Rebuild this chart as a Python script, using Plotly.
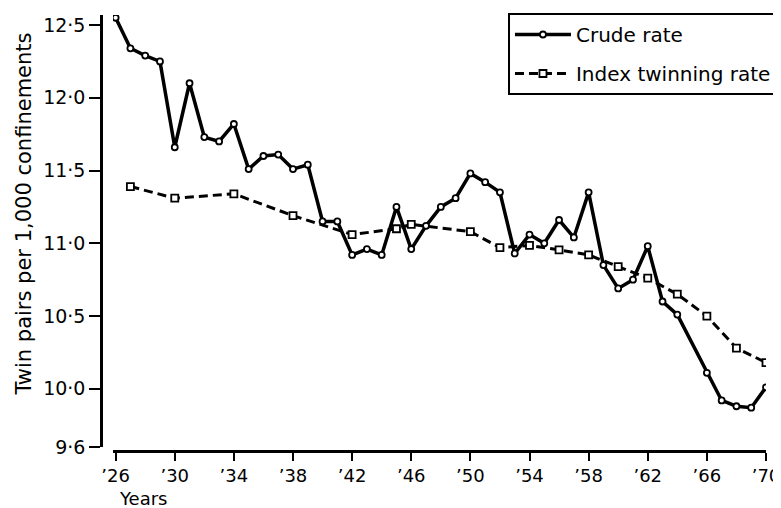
import plotly.graph_objects as go

crude_years = [1926, 1927, 1928, 1929, 1930, 1931, 1932, 1933, 1934, 1935, 1936, 1937, 1938, 1939,
               1940, 1941, 1942, 1943, 1944, 1945, 1946, 1947, 1948, 1949, 1950, 1951, 1952, 1953,
               1954, 1955, 1956, 1957, 1958, 1959, 1960, 1961, 1962, 1963, 1964, 1966, 1967, 1968,
               1969, 1970]
crude_rate = [12.55, 12.34, 12.29, 12.25, 11.66, 12.10, 11.73, 11.70, 11.82, 11.51, 11.60, 11.61, 11.51, 11.54,
              11.15, 11.15, 10.92, 10.96, 10.92, 11.25, 10.96, 11.12, 11.25, 11.31, 11.48, 11.42, 11.35, 10.93,
              11.06, 11.00, 11.16, 11.04, 11.35, 10.85, 10.69, 10.75, 10.98, 10.60, 10.51, 10.11, 9.92, 9.88,
              9.87, 10.01]

index_years = [1927, 1930, 1934, 1938, 1942, 1945, 1946, 1950, 1952, 1954, 1956, 1958, 1960, 1962,
               1964, 1966, 1968, 1970]
index_rate = [11.39, 11.31, 11.34, 11.19, 11.06, 11.10, 11.13, 11.08, 10.97, 10.985, 10.955, 10.92, 10.84, 10.76,
              10.65, 10.50, 10.28, 10.18]

y_ticks = [9.6, 10.0, 10.5, 11.0, 11.5, 12.0, 12.5]
y_tick_labels = ["9·6", "10·0", "10·5", "11·0", "11·5", "12·0", "12·5"]
x_ticks = [1926, 1930, 1934, 1938, 1942, 1946, 1950, 1954, 1958, 1962, 1966, 1970]
x_tick_labels = ["’26", "’30", "’34", "’38", "’42", "’46", "’50", "’54", "’58", "’62", "’66", "’70"]

FONT = "'DejaVu Sans', sans-serif"

fig = go.Figure()
fig.add_trace(go.Scatter(
    x=crude_years, y=crude_rate, name="Crude rate", mode="lines+markers",
    legendgroup="a",
    line=dict(color="black", width=3.5),
    marker=dict(symbol="circle", size=6, color="white", line=dict(color="black", width=1.8)),
))
fig.add_trace(go.Scatter(
    x=index_years, y=index_rate, name="Index twinning rate", mode="lines+markers",
    legendgroup="b",
    line=dict(color="black", width=3, dash="9px,5px"),
    marker=dict(symbol="square", size=7, color="white", line=dict(color="black", width=1.8)),
))

fig.update_layout(
    width=781, height=508,
    margin=dict(l=93, r=23, t=7, b=65, autoexpand=False),
    paper_bgcolor="white", plot_bgcolor="white",
    font=dict(family=FONT, color="black", size=17),
    showlegend=True,
    legend=dict(
        x=1.018, y=1.0046, xanchor="right", yanchor="top",
        bordercolor="black", borderwidth=2, bgcolor="white",
        font=dict(family=FONT, size=20, color="black"),
        itemwidth=56, tracegroupgap=10,
    ),
    xaxis=dict(
        domain=[0.018, 1], range=[1925.82, 1970], anchor="free", position=0,
        tickmode="array", tickvals=x_ticks, ticktext=x_tick_labels,
        showline=True, linecolor="black", linewidth=2.5,
        ticks="outside", ticklen=8, tickwidth=2, tickcolor="black",
        showgrid=False, zeroline=False,
        tickfont=dict(family=FONT, size=18),
    ),
    yaxis=dict(
        domain=[0.0092, 1], range=[9.6, 12.569], anchor="free", position=0,
        tickmode="array", tickvals=y_ticks, ticktext=y_tick_labels,
        showline=True, linecolor="black", linewidth=2.5,
        ticks="outside", ticklen=11, tickwidth=2, tickcolor="black",
        showgrid=False, zeroline=False,
        tickfont=dict(family=FONT, size=19),
    ),
    annotations=[
        dict(text="Twin pairs per 1,000 confinements", xref="paper", yref="paper",
             x=-0.1165, y=0.5436, xanchor="center", yanchor="middle", textangle=-90, showarrow=False,
             font=dict(family=FONT, size=21, color="black")),
        dict(text="Years", xref="paper", yref="paper", x=0.024, y=-0.110,
             xanchor="left", yanchor="middle", showarrow=False,
             font=dict(family=FONT, size=18, color="black")),
    ],
)

fig.write_html("out.html")
